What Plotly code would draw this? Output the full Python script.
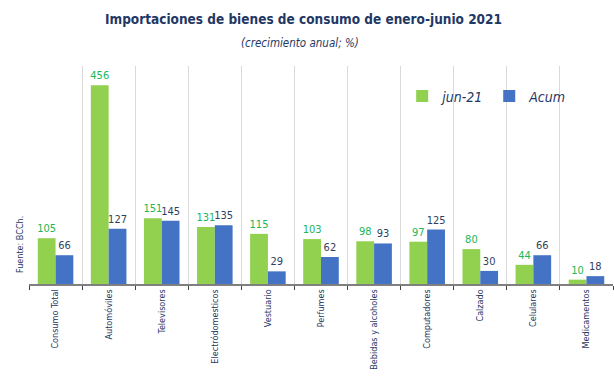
import plotly.graph_objects as go

categories = ["Consumo Total", "Automóviles", "Televisores", "Electródomesticos", "Vestuario",
              "Perfumes", "Bebidas y alcoholes", "Computadores", "Calzado", "Celulares", "Medicamentos"]
jun21 = [105, 456, 151, 131, 115, 103, 98, 97, 80, 44, 10]
acum = [66, 127, 145, 135, 29, 62, 93, 125, 30, 66, 18]

FONT = "DejaVu Sans Condensed, Liberation Sans Narrow, sans-serif"
NAVY = "#1f3864"

fig = go.Figure()
fig.add_trace(go.Bar(x=categories, y=jun21, name="jun-21", marker_color="#92d050",
                     marker_line_width=0, text=jun21, textposition="outside",
                     constraintext="none",
                     textfont=dict(color="#22b556", size=11, family=FONT), cliponaxis=False))
fig.add_trace(go.Bar(x=categories, y=acum, name="Acum", marker_color="#4472c4",
                     marker_line_width=0, text=acum, textposition="outside",
                     constraintext="none",
                     textfont=dict(color="#333f60", size=11, family=FONT), cliponaxis=False))

fig.update_layout(
    width=614, height=389,
    margin=dict(l=29, r=1, t=66, b=105),
    paper_bgcolor="white", plot_bgcolor="white",
    barmode="group", bargap=0.33, bargroupgap=0,
    font=dict(family=FONT, color=NAVY),
    showlegend=True,
    legend=dict(orientation="h", x=0.639, y=0.86, xanchor="left", yanchor="middle",
                font=dict(size=14, color=NAVY, family=FONT, style="italic"), itemwidth=30,
                bgcolor="rgba(0,0,0,0)", traceorder="normal"),
    xaxis=dict(type="category", tickson="boundaries", showgrid=True, gridcolor="#d9d9d9",
               gridwidth=1, showline=True, linecolor="#7f7f7f", linewidth=1.5,
               ticks="outside", ticklen=4, tickcolor="#404040", tickangle=-90,
               tickfont=dict(size=9, color=NAVY, family=FONT)),
    yaxis=dict(range=[0, 500], showgrid=False, showticklabels=False, zeroline=False, showline=False),
)

fig.add_annotation(text="<b>Importaciones de bienes de consumo de enero-junio 2021</b>",
                   xref="paper", yref="paper", x=(303-29)/584, y=1 + (66-19)/218,
                   showarrow=False, font=dict(size=13.5, color=NAVY, family=FONT),
                   xanchor="center", yanchor="middle")
fig.add_annotation(text="<i>(crecimiento anual; %)</i>",
                   xref="paper", yref="paper", x=(300-29)/584, y=1 + (66-43)/218,
                   showarrow=False, font=dict(size=11.5, color=NAVY, family=FONT),
                   xanchor="center", yanchor="middle")
fig.add_annotation(text="Fuente: BCCh.", textangle=-90,
                   xref="paper", yref="paper", x=-(29-20)/584, y=(284-245)/218,
                   showarrow=False, font=dict(size=9, color=NAVY, family=FONT),
                   xanchor="center", yanchor="middle")

fig.update_traces(hoverinfo="skip")
fig.write_html("out.html", config={"displayModeBar": False},
               post_script="document.body.style.margin='0';")
